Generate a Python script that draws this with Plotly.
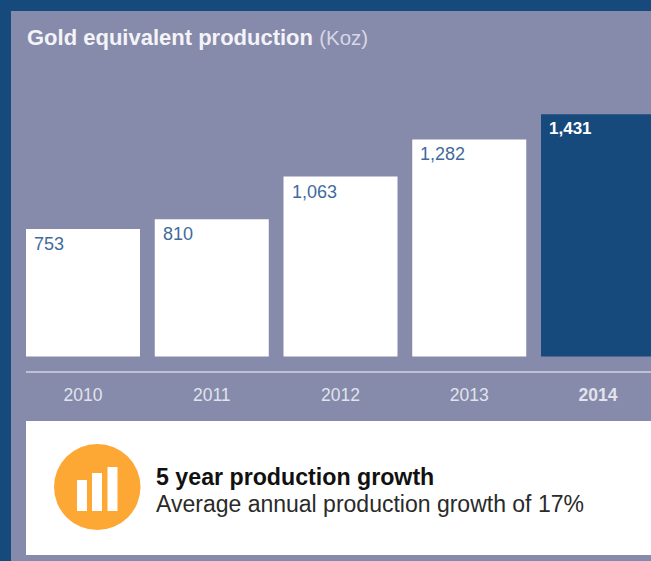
import plotly.graph_objects as go

years = ["2010", "2011", "2012", "2013", "2014"]
production = [753, 810, 1063, 1282, 1431]
value_labels = ["753", "810", "1,063", "1,282", "<b>1,431</b>"]
tick_labels = ["2010", "2011", "2012", "2013", "<b>2014</b>"]
bar_colors = ["#ffffff", "#ffffff", "#ffffff", "#ffffff", "#174a7c"]
label_colors = ["#3f6b9b", "#3f6b9b", "#3f6b9b", "#3f6b9b", "#ffffff"]

WIDTH, HEIGHT = 651, 561
AXIS_Y = 372
NAVY, PANEL = "#174a7c", "#868aab"
FONT = "Liberation Sans"
STEP = 128.75
BAR_PX = 114
FIRST_CENTRE = 83
BASE_Y = 356.5
PX_PER_OZ = 0.1693


def fx(px):
    return px / WIDTH


def fy(py):
    return 1 - py / AXIS_Y


def box(x0, y0, x1, y1, color, kind="rect", layer="below"):
    return dict(type=kind, xref="paper", yref="paper", x0=fx(x0), x1=fx(x1),
                y0=fy(y0), y1=fy(y1), fillcolor=color, line_width=0, layer=layer)


def note(px, py, text, size, color):
    return dict(xref="paper", yref="paper", x=fx(px), y=fy(py), text=text, showarrow=False,
                xanchor="left", yanchor="middle", align="left",
                font=dict(family=FONT, size=size, color=color))


positions = list(range(len(years)))
fig = go.Figure(go.Bar(x=positions, y=production, width=BAR_PX / STEP,
                       marker=dict(color=bar_colors, line_width=0), hoverinfo="x+y"))

shapes = [
    box(11, 11, WIDTH, HEIGHT, PANEL),
    box(26, 421, WIDTH, 555, "#ffffff"),
    box(54, 444, 140.5, 530, "#fda835", "circle", "above"),
    box(77, 480, 87, 511, "#ffffff", layer="above"),
    box(92, 473, 102, 511, "#ffffff", layer="above"),
    box(107.5, 467, 117.5, 511, "#ffffff", layer="above"),
    dict(type="line", xref="paper", yref="paper", x0=fx(26), x1=1, y0=fy(372), y1=fy(372),
         line=dict(color="#f7f7fa", width=1), layer="above"),
]

annotations = [
    note(25, 37, "<b>Gold equivalent production</b>"
         " <span style='color:#d6d8e4;font-size:20.5px'>(Koz)</span>", 22, "#f4f4f8"),
    note(153.5, 477, "<b>5 year production growth</b>", 23.2, "#111111"),
    note(153.5, 504, "Average annual production growth of 17%", 23, "#2a2a2a"),
]
for pos, value, label, color in zip(positions, production, value_labels, label_colors):
    annotations.append(dict(
        x=pos - BAR_PX / STEP / 2, y=value, xref="x", yref="y", text=label, showarrow=False,
        xanchor="left", yanchor="top", xshift=6, yshift=-3,
        font=dict(family=FONT, size=18 if color != "#ffffff" else 17, color=color),
    ))

fig.update_layout(
    width=WIDTH, height=HEIGHT, margin=dict(l=0, r=0, t=0, b=HEIGHT - AXIS_Y),
    paper_bgcolor=NAVY, plot_bgcolor="rgba(0,0,0,0)", showlegend=False,
    shapes=shapes, annotations=annotations,
    xaxis=dict(range=[-FIRST_CENTRE / STEP, (WIDTH - FIRST_CENTRE) / STEP],
               tickmode="array", tickvals=positions, ticktext=tick_labels,
               ticks="outside", ticklen=7, tickcolor="rgba(0,0,0,0)",
               tickfont=dict(family=FONT, size=17.5, color="#e2e3ec"),
               showgrid=False, zeroline=False, showline=False, fixedrange=True),
    yaxis=dict(range=[(BASE_Y - AXIS_Y) / PX_PER_OZ, BASE_Y / PX_PER_OZ],
               visible=False, fixedrange=True),
)

fig.write_html("out.html", config={"displayModeBar": False})
